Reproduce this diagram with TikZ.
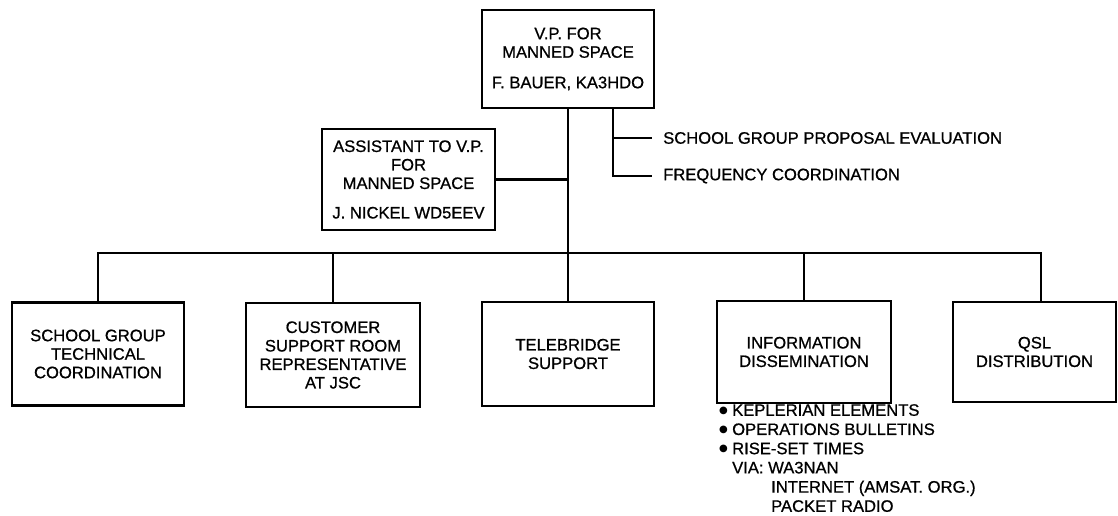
\documentclass[tikz,border=0pt]{standalone}
\usepackage{fontspec}
\setmainfont{Liberation Sans}[FakeBold=0.8]
\newfontfamily\symfont{DejaVu Sans}
\newcommand{\chartfont}{\fontsize{16.6}{18.5}\selectfont}
\newcommand{\listfont}{\fontsize{16.6}{19.2}\selectfont}
\newcommand{\bul}{\makebox[13pt][l]{\raisebox{2.2pt}{\symfont\fontsize{10}{10}\selectfont ●}}}
\begin{document}
\begin{tikzpicture}[x=1pt,y=-1pt,
  orgbox/.style={draw, line width=2.8pt, align=center, font=\chartfont, inner sep=0pt},
  conn/.style={line width=2.8pt, line cap=rect},
  thinconn/.style={line width=2.2pt},
  lbl/.style={font=\chartfont, anchor=west, inner sep=0pt, inner xsep=11pt}]
\useasboundingbox (0,0) rectangle (1118,516);

% top box
\node[orgbox, minimum width=172pt, minimum height=98pt] (vp) at (568,59)
  {V.P. FOR\\ MANNED SPACE\\[12pt] F. BAUER, KA3HDO};
% assistant
\node[orgbox, minimum width=173pt, minimum height=101pt] (asst) at (408.5,179.5)
  {ASSISTANT TO V.P.\\ FOR\\ MANNED SPACE\\[11pt] J. NICKEL WD5EEV};

% side labels
\node[lbl] (sg) at (652,138) {SCHOOL GROUP PROPOSAL EVALUATION};
\node[lbl] (fc) at (652,176) {FREQUENCY COORDINATION};
\coordinate (sb) at (613,108);
\draw[thinconn] (sb) |- (fc.west);
\draw[thinconn] (sb |- sg.west) -- (sg.west);

% bottom boxes
\node[orgbox, minimum width=172pt, minimum height=103pt] (b1) at (98,354)
  {SCHOOL GROUP\\ TECHNICAL\\ COORDINATION};
\node[orgbox, minimum width=174pt, minimum height=104pt] (b2) at (333,355)
  {CUSTOMER\\ SUPPORT ROOM\\ REPRESENTATIVE\\ AT JSC};
\node[orgbox, minimum width=172pt, minimum height=104pt] (b3) at (568,354)
  {TELEBRIDGE\\ SUPPORT};
\node[orgbox, minimum width=174pt, minimum height=102pt] (b4) at (804,352)
  {INFORMATION\\ DISSEMINATION};
\node[orgbox, minimum width=163pt, minimum height=100pt] (b5) at (1034.5,352)
  {QSL\\ DISTRIBUTION};

% list under information box
\node[font=\listfont, align=left, anchor=north west, inner sep=0pt] (lst) at (719,404)
  {\bul KEPLERIAN ELEMENTS\\
   \bul OPERATIONS BULLETINS\\
   \bul RISE-SET TIMES\\
   \hspace*{13pt}VIA: WA3NAN\\
   \hspace*{52pt}INTERNET (AMSAT. ORG.)\\
   \hspace*{52pt}PACKET RADIO};

% connectors
\coordinate (bus) at (568,253);
\coordinate (d5) at (1041,302);
\draw[conn] (vp.south) -- (bus);
\draw[conn] (asst.east) -- (asst.east -| vp.south);
\draw[conn] (b1.north) -- (b1.north |- bus) -- (d5 |- bus) -- (d5);
\draw[conn] (b2.north) -- (b2.north |- bus);
\draw[conn] (b3.north) -- (bus);
\draw[conn] (b4.north) -- (b4.north |- bus);
\end{tikzpicture}
\end{document}
